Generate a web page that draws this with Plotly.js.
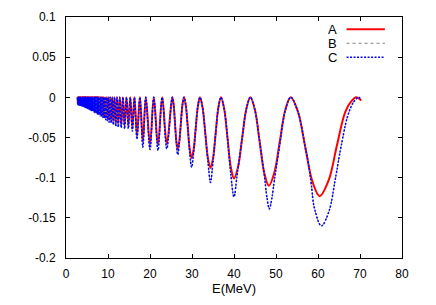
<!DOCTYPE html>
<html>
<head>
<meta charset="utf-8">
<script src="https://cdn.plot.ly/plotly-3.0.1.min.js"></script>
<style>html,body{margin:0;padding:0;background:#fff;}#chart{width:436px;height:305px;}</style>
</head>
<body>
<div id="chart"></div>
<script>
// ---- data ----
const seriesNames = ['A', 'B', 'C'];

// energies of the maxima (value 0), shared by all curves
const peakE = [2.75,2.875,3.0,3.125,3.25,3.375,3.5,3.625,3.75,3.875,4.0,4.125,4.25,4.375,4.5,4.625,4.75,4.875,5.0,5.125,5.25,
  5.375,5.5,5.625,5.75,5.875,6.0,6.125,6.25,6.375,6.5,6.625,6.75,6.875,7.0,7.125,7.25,7.375,7.5,7.625,7.75,7.875,
  8.0,8.3,8.6,8.95,9.3,9.65,10.05,10.5,11.0,11.55,12.15,12.8,13.55,14.4,15.3,16.3,17.6,19.0,20.9,22.9,25.3,28.1,31.9,36.9,43.9,53.5];

// energies of the minima, shared
const troughE = [2.81,2.94,3.06,3.19,3.31,3.44,3.56,3.69,3.81,3.94,4.06,4.19,4.31,4.44,4.56,4.69,4.81,4.94,5.06,5.19,5.31,
  5.44,5.56,5.69,5.81,5.94,6.06,6.19,6.31,6.44,6.56,6.69,6.81,6.94,7.06,7.19,7.31,7.44,7.56,7.69,7.81,7.94,
  8.15,8.45,8.77,9.12,9.47,9.85,10.27,10.75,11.27,11.85,12.45,13.15,13.95,14.85,15.8,16.9,18.3,20.0,21.9,24.0,26.6,29.9,34.4,40.0];

// minimum values, curve A
const troughA = [-0.0081,-0.0083,-0.0085,-0.0086,-0.0088,-0.009,-0.0092,-0.0094,-0.0095,-0.0097,-0.0099,-0.0104,-0.0106,-0.0108,-0.011,-0.0113,-0.0115,-0.0117,-0.0122,-0.0126,-0.0128,
  -0.0131,-0.0133,-0.0135,-0.014,-0.0144,-0.0147,-0.0149,-0.0153,-0.0156,-0.0158,-0.0162,-0.0167,-0.0171,-0.0174,-0.0176,-0.018,-0.0183,-0.0185,-0.0189,-0.0194,-0.0198,
  -0.021,-0.0215,-0.0225,-0.0235,-0.025,-0.026,-0.028,-0.029,-0.031,-0.032,-0.033,-0.034,-0.035,-0.035,-0.038,-0.048,-0.055,-0.059,-0.059,-0.058,-0.064,-0.0755,-0.088,-0.101];

// minimum values, curves B and C
const troughC = [-0.009,-0.0092,-0.0094,-0.0096,-0.0098,-0.01,-0.0102,-0.0104,-0.0106,-0.0108,-0.011,-0.0115,-0.0118,-0.012,-0.0122,-0.0125,-0.0128,-0.013,-0.0135,-0.014,-0.0142,
  -0.0145,-0.0148,-0.015,-0.0155,-0.016,-0.0163,-0.0166,-0.017,-0.0173,-0.0176,-0.018,-0.0185,-0.019,-0.0193,-0.0196,-0.02,-0.0203,-0.0206,-0.021,-0.0215,-0.022,
  -0.023,-0.024,-0.025,-0.026,-0.028,-0.029,-0.031,-0.032,-0.034,-0.036,-0.037,-0.038,-0.039,-0.039,-0.042,-0.052,-0.062,-0.065,-0.066,-0.064,-0.0714,-0.087,-0.106,-0.124];

// last two wide minima
const aWideE = [48.3, 60.4];
const aWideY = [-0.110, -0.123];
const cWideE = [48.4, 60.8];
const cWideY = [-0.139, -0.160];

// points on the flanks of the wide oscillations
const aFlankE = [25.625,25.95,26.275,26.975,27.35,27.725, 28.55,29.0,29.45,30.4,30.9,31.4, 32.525,33.15,33.775,35.025,35.65,36.275,
  37.675,38.45,39.225,40.975,41.95,42.925, 45.0,46.1,47.2,49.6,50.9,52.2, 55.225,56.95,58.675,62.55,64.5,66.5,68.0];
const aFlankY = [-0.0093,-0.032,-0.0547,-0.0547,-0.032,-0.0093, -0.011,-0.0378,-0.0645,-0.0645,-0.0378,-0.011, -0.0128,-0.044,-0.0751,-0.0751,-0.044,-0.0128,
  -0.0147,-0.0505,-0.0863,-0.0863,-0.0505,-0.0147, -0.0161,-0.055,-0.0939,-0.0939,-0.055,-0.0161, -0.018,-0.0615,-0.105,-0.103,-0.06,-0.018,-0.0045];
const cFlankE = [25.625,25.95,26.275,26.975,27.35,27.725, 28.55,29.0,29.45,30.4,30.9,31.4, 32.525,33.15,33.8,35.0,35.65,36.275,
  37.675,38.45,39.225,40.775,41.95,42.925, 45.0,46.1,47.2,47.85,49.0,49.7,50.95,52.2, 55.225,56.95,57.7,58.4,59.15,62.6,64.1,65.5,67.2,68.6];
const cFlankY = [-0.0093,-0.032,-0.057,-0.057,-0.032,-0.0093, -0.011,-0.0378,-0.068,-0.068,-0.0378,-0.011, -0.0128,-0.044,-0.08,-0.08,-0.044,-0.0128,
  -0.0147,-0.0505,-0.095,-0.095,-0.0505,-0.0147, -0.0161,-0.055,-0.096,-0.125,-0.126,-0.1,-0.057,-0.0165, -0.018,-0.0615,-0.082,-0.108,-0.138,-0.142,-0.1025,-0.061,-0.021,-0.005];

// last maximum and end point
const aEndE = [69.1, 70.3];
const aEndY = [0, -0.004];
const cEndE = [69.7, 70.1];
const cEndY = [0, -0.002];

const xTicks = [0,10,20,30,40,50,60,70,80];
const yTicks = [-0.2,-0.15,-0.1,-0.05,0,0.05,0.1];
const yTickText = ['-0.2','-0.15','-0.1','-0.05','0','0.05','0.1'];

// ---- assemble the curves ----
function assemble(groups) {
  const pts = [];
  groups.forEach(g => g[0].forEach((e, i) => pts.push([e, g[1][i]])));
  pts.sort((p, q) => p[0] - q[0]);
  return {x: pts.map(p => p[0]), y: pts.map(p => p[1])};
}
const zeros = peakE.map(() => 0);
const curveA = assemble([[peakE, zeros], [troughE, troughA], [aWideE, aWideY], [aFlankE, aFlankY], [aEndE, aEndY]]);
const curveC = assemble([[peakE, zeros], [troughE, troughC], [cWideE, cWideY], [cFlankE, cFlankY], [cEndE, cEndY]]);

const font = 'Liberation Sans, Arial, Helvetica, sans-serif';

const traces = [
  {x: curveA.x, y: curveA.y, name: seriesNames[0], mode: 'lines',
   line: {color: '#ff0000', width: 2, shape: 'spline', smoothing: 1, simplify: false}},
  {x: curveC.x, y: curveC.y, name: seriesNames[1], mode: 'lines',
   line: {color: '#808080', width: 1, dash: '3px,3px', shape: 'spline', smoothing: 1, simplify: false}},
  {x: curveC.x, y: curveC.y, name: seriesNames[2], mode: 'lines',
   line: {color: '#0000ff', width: 1.5, dash: '2px,1.5px', shape: 'spline', smoothing: 1, simplify: false}}
];

const legendY = [0.949, 0.891, 0.833];
const legendStyle = [
  {color: '#ff0000', width: 2},
  {color: '#808080', width: 1, dash: '3px,3px'},
  {color: '#0000ff', width: 1.5, dash: '2px,1.5px'}
];

const axisCommon = {
  showline: true, linecolor: '#000', linewidth: 1, mirror: 'ticks',
  ticks: 'inside', ticklen: 4, tickwidth: 1, tickcolor: '#000',
  showgrid: false, zeroline: false,
  tickfont: {family: font, size: 12, color: '#000'}
};

const layout = {
  width: 436, height: 305,
  margin: {l: 66, r: 34, t: 17, b: 47},
  paper_bgcolor: '#fff', plot_bgcolor: '#fff',
  showlegend: false,
  xaxis: Object.assign({}, axisCommon, {
    range: [0, 80], tickmode: 'array', tickvals: xTicks, ticktext: xTicks.map(String),
    ticklabelstandoff: 5,
    title: {text: 'E(MeV)', font: {family: font, size: 13, color: '#000'}, standoff: 2}
  }),
  yaxis: Object.assign({}, axisCommon, {
    range: [-0.2, 0.1], tickmode: 'array', tickvals: yTicks, ticktext: yTickText,
    ticklabelstandoff: 7
  }),
  shapes: legendY.map((y, i) => ({
    type: 'line', xref: 'paper', yref: 'paper', x0: 0.835, x1: 0.949, y0: y, y1: y,
    line: legendStyle[i]
  })),
  annotations: legendY.map((y, i) => ({
    xref: 'paper', yref: 'paper', x: 0.812, y: y, xanchor: 'right', yanchor: 'middle',
    text: seriesNames[i], showarrow: false, font: {family: font, size: 13, color: '#000'}
  }))
};

Plotly.newPlot('chart', traces, layout, {displayModeBar: false, staticPlot: true});
</script>
</body>
</html>
